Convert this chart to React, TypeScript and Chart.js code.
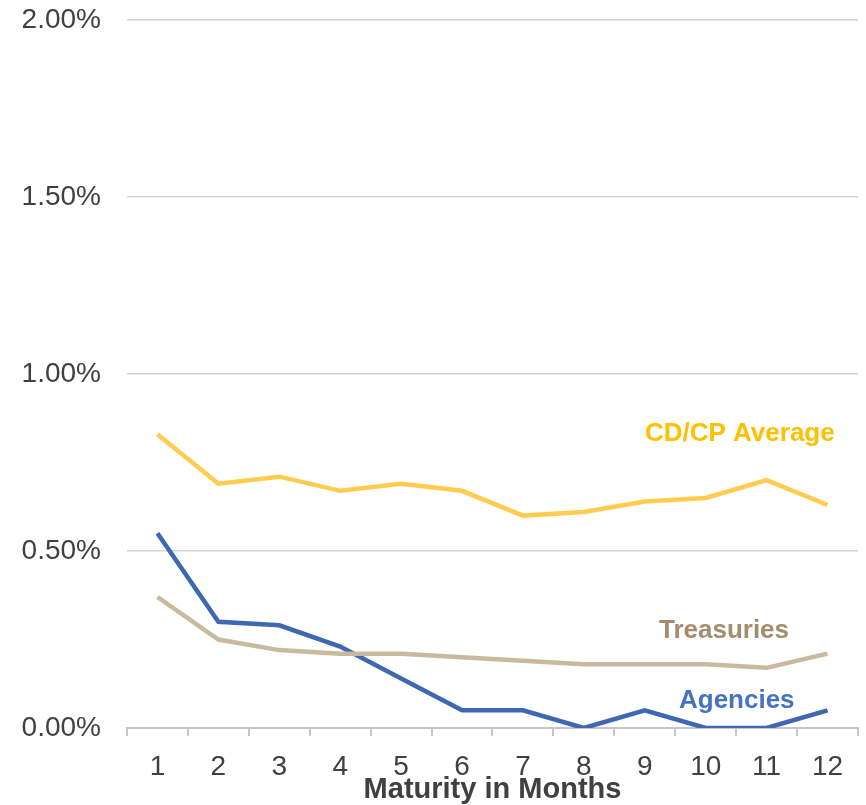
import React, { useEffect, useRef } from "react";
import { Chart, registerables } from "chart.js";

Chart.register(...registerables);

const months = ["1", "2", "3", "4", "5", "6", "7", "8", "9", "10", "11", "12"];
const cdCpAverage = [0.83, 0.69, 0.71, 0.67, 0.69, 0.67, 0.6, 0.61, 0.64, 0.65, 0.7, 0.63];
const treasuries = [0.37, 0.25, 0.22, 0.21, 0.21, 0.2, 0.19, 0.18, 0.18, 0.18, 0.17, 0.21];
const agencies = [0.55, 0.3, 0.29, 0.23, 0.14, 0.05, 0.05, 0.0, 0.05, 0.0, 0.0, 0.05];

const FONT = "'Liberation Sans', Arial, Helvetica, sans-serif";

// Series name tags placed near the right end of each line (x as category index, y in % units)
const seriesTags = [
  { text: "CD/CP Average", color: "#FFC000", x: 9.56, y: 0.83 },
  { text: "Treasuries", color: "#A48C6C", x: 9.3, y: 0.274 },
  { text: "Agencies", color: "#4472C4", x: 9.51, y: 0.076 },
];

const tagPlugin = {
  id: "seriesTags",
  afterDatasetsDraw(chart: any) {
    const { ctx, scales } = chart;
    ctx.save();
    ctx.font = `bold 26px ${FONT}`;
    ctx.textAlign = "center";
    ctx.textBaseline = "middle";
    for (const t of seriesTags) {
      ctx.fillStyle = t.color;
      ctx.fillText(t.text, scales.x.getPixelForValue(t.x), scales.y.getPixelForValue(t.y));
    }
    ctx.restore();
  },
};

export default function App() {
  const canvasRef = useRef<HTMLCanvasElement | null>(null);

  useEffect(() => {
    const canvas = canvasRef.current;
    if (!canvas) return;
    const lineStyle = { borderWidth: 4.5, pointRadius: 0, pointHoverRadius: 0, tension: 0, fill: false };
    const chart = new Chart(canvas, {
      type: "line",
      data: {
        labels: months,
        datasets: [
          { label: "CD/CP Average", data: cdCpAverage, borderColor: "#FFCC4F", ...lineStyle },
          { label: "Treasuries", data: treasuries, borderColor: "#C9B99F", ...lineStyle },
          { label: "Agencies", data: agencies, borderColor: "#3F68B2", ...lineStyle },
        ],
      },
      options: {
        responsive: false,
        animation: false,
        layout: { padding: { left: 0, right: 8, top: 20, bottom: 0 } },
        plugins: { legend: { display: false }, tooltip: { enabled: false } },
        scales: {
          x: {
            offset: true,
            grid: {
              offset: true,
              drawOnChartArea: false,
              drawTicks: true,
              tickLength: 8,
              color: "#c6c6c6",
              lineWidth: 2,
            },
            border: { display: true, color: "#c6c6c6", width: 2 },
            ticks: {
              color: "#404040",
              font: { family: FONT, size: 28, lineHeight: 1 },
              padding: 17,
              maxRotation: 0,
            },
            title: {
              display: true,
              text: "Maturity in Months",
              color: "#404040",
              font: { family: FONT, size: 29, weight: "bold", lineHeight: 1 },
              padding: { top: 0, bottom: 1 },
            },
            afterFit(scale: any) {
              scale.height = 77;
              scale.paddingLeft = 0;
              scale.paddingRight = 0;
            },
          },
          y: {
            min: 0,
            max: 2,
            grid: { color: "#d4d4d4", lineWidth: 1.5, drawTicks: false },
            border: { display: false },
            ticks: {
              stepSize: 0.5,
              color: "#404040",
              font: { family: FONT, size: 28, lineHeight: 1 },
              padding: 26,
              callback: (v: any) => Number(v).toFixed(2) + "%",
            },
            afterFit(scale: any) {
              scale.width = 127;
              scale.paddingTop = 0;
              scale.paddingBottom = 0;
            },
          },
        },
      },
      plugins: [tagPlugin],
    });
    return () => chart.destroy();
  }, []);

  return (
    <div style={{ position: "absolute", left: 0, top: 0, width: 866, height: 805, background: "#fff" }}>
      <canvas ref={canvasRef} width={866} height={805} style={{ display: "block" }} />
    </div>
  );
}
